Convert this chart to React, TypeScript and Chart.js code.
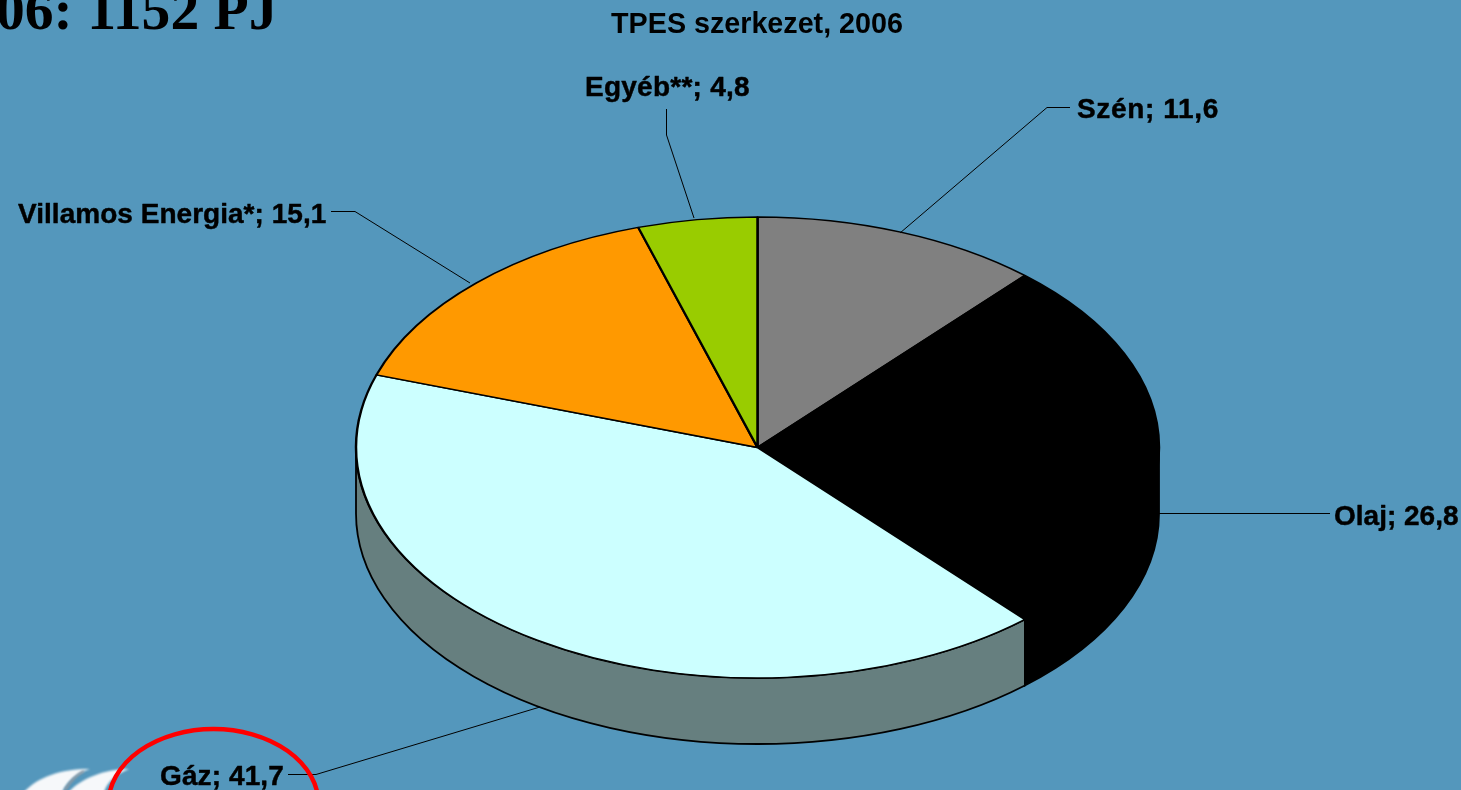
import React, { useEffect, useRef } from "react";
import { Chart, registerables } from "chart.js";

Chart.register(...registerables);

const categories = ["Szén", "Olaj", "Gáz", "Villamos Energia*", "Egyéb**"];
const values = [11.6, 26.8, 41.7, 15.1, 4.8];
const topColors = ["#808080", "#000000", "#CCFFFF", "#FF9900", "#99CC00"];
const sideColors = ["#404040", "#000000", "#667F7F", "#7F4C00", "#4C6600"];
const chartTitle = "TPES szerkezet, 2006";
const slideTitle = "06: 1152 PJ";
const background = "#5497BC";
const sans = "'Liberation Sans', Arial, sans-serif";

// Geometry of the tilted pie on the page.
const tilt = { cx: 757.5, cy: 447.5, rx: 401.5, ry: 230.5, depth: 66 };

// Label placement: text left / baseline, tracking, and the leader polyline from the label to the pie.
const labelLayout = [
  { x: 1077, y: 117.5, tracking: 0.65, leader: [[1070, 107.5], [1047, 107.5], [900, 233]] },
  { x: 1334, y: 525, tracking: 0, leader: [[1330, 513.5], [1159, 513.5]] },
  { x: 160, y: 784.5, tracking: 0.1, leader: [[288, 774.5], [316, 774.5], [540, 707]] },
  { x: 18, y: 222.5, tracking: 0.03, leader: [[331, 211.5], [355, 211.5], [470, 283]] },
  { x: 585, y: 95.5, tracking: 0.25, leader: [[666.5, 109], [666.5, 135], [694, 218]] },
];

const tiltPlugin = {
  id: "tiltedPie",
  beforeDraw(chart: any) {
    const { ctx, width, height } = chart;
    ctx.save();
    ctx.fillStyle = background;
    ctx.fillRect(0, 0, width, height);
    ctx.restore();
  },
  beforeDatasetsDraw(chart: any) {
    const { ctx } = chart;
    const arcs = chart.getDatasetMeta(0).data;
    // Side wall: only the front half of the rim (canvas angles 0..PI) can be seen.
    ctx.save();
    arcs.forEach((arc: any, i: number) => {
      const a0 = ((arc.startAngle % (2 * Math.PI)) + 2 * Math.PI) % (2 * Math.PI);
      const span = arc.endAngle - arc.startAngle;
      const ranges = [
        [a0, a0 + span],
        [a0 - 2 * Math.PI, a0 + span - 2 * Math.PI],
      ];
      ranges.forEach(([s, e]) => {
        const from = Math.max(s, 0);
        const to = Math.min(e, Math.PI);
        if (to <= from) return;
        ctx.beginPath();
        ctx.ellipse(tilt.cx, tilt.cy, tilt.rx, tilt.ry, 0, from, to);
        ctx.ellipse(tilt.cx, tilt.cy + tilt.depth, tilt.rx, tilt.ry, 0, to, from, true);
        ctx.closePath();
        ctx.fillStyle = sideColors[i];
        ctx.fill();
        ctx.strokeStyle = "#000000";
        ctx.lineWidth = 1.8;
        ctx.stroke();
      });
    });
    ctx.restore();
    // Squash the library's own arcs into the tilted ellipse.
    const first = arcs[0];
    ctx.save();
    ctx.translate(tilt.cx, tilt.cy);
    ctx.scale(tilt.rx / first.outerRadius, tilt.ry / first.outerRadius);
    ctx.translate(-first.x, -first.y);
  },
  afterDatasetsDraw(chart: any) {
    const { ctx } = chart;
    ctx.restore();

    // Leader lines and data labels
    ctx.save();
    ctx.strokeStyle = "#000000";
    ctx.lineWidth = 1;
    labelLayout.forEach((item) => {
      ctx.beginPath();
      item.leader.forEach(([x, y], k) => (k ? ctx.lineTo(x, y) : ctx.moveTo(x, y)));
      ctx.stroke();
    });
    ctx.fillStyle = "#000000";
    ctx.font = `bold 28px ${sans}`;
    ctx.textBaseline = "alphabetic";
    ctx.textAlign = "left";
    ctx.lineWidth = 0.45;
    ctx.lineJoin = "round";
    labelLayout.forEach((item, i) => {
      const text = `${categories[i]}; ${String(values[i]).replace(".", ",")}`;
      ctx.letterSpacing = `${item.tracking}px`;
      ctx.fillText(text, item.x, item.y);
      ctx.strokeText(text, item.x, item.y);
    });
    ctx.letterSpacing = "0px";

    // Slide heading, cut by the top-left corner of the page
    ctx.font = "bold 57.6px 'Liberation Serif', 'Times New Roman', serif";
    ctx.fillText(slideTitle, -4, 29);

    // Logo fragment in the bottom-left corner
    ctx.save();
    ctx.filter = "blur(1.3px)";
    ctx.fillStyle = "#F6F8FA";
    ctx.beginPath();
    ctx.moveTo(24, 792);
    ctx.bezierCurveTo(38, 777, 60, 769, 90, 769);
    ctx.bezierCurveTo(76, 773, 68, 781, 62, 792);
    ctx.closePath();
    ctx.fill();
    ctx.beginPath();
    ctx.moveTo(69, 792);
    ctx.bezierCurveTo(80, 779, 104, 769, 129, 769);
    ctx.bezierCurveTo(116, 774, 108, 781, 104, 792);
    ctx.closePath();
    ctx.fill();
    ctx.strokeStyle = "#8A97A2";
    ctx.lineWidth = 2.5;
    ctx.beginPath();
    ctx.moveTo(65, 790);
    ctx.bezierCurveTo(70, 782, 76, 775, 84, 771);
    ctx.stroke();
    ctx.restore();

    // Red highlight ring round the gas label
    ctx.strokeStyle = "#FF0000";
    ctx.lineWidth = 4.4;
    ctx.beginPath();
    ctx.ellipse(213.5, 804, 105, 75, 0, 0, 2 * Math.PI);
    ctx.stroke();
    ctx.restore();
  },
};

export default function App() {
  const ref = useRef<HTMLCanvasElement>(null);
  useEffect(() => {
    const chart = new Chart(ref.current as HTMLCanvasElement, {
      type: "pie",
      data: {
        labels: categories,
        datasets: [
          {
            data: values,
            backgroundColor: topColors,
            borderColor: "#000000",
            borderWidth: 2.3,
            clip: false,
          } as any,
        ],
      },
      options: {
        responsive: false,
        animation: false,
        events: [],
        layout: { padding: { left: 382, right: 329, top: 8, bottom: 0 } },
        plugins: {
          legend: { display: false },
          tooltip: { enabled: false },
          title: {
            display: true,
            text: chartTitle,
            fullSize: false,
            color: "#000000",
            font: { family: sans, size: 28.7, weight: "bold" },
            padding: { top: 0, bottom: 0 },
          },
        },
      },
      plugins: [tiltPlugin],
    } as any);
    return () => chart.destroy();
  }, []);
  return (
    <canvas
      ref={ref}
      width={1461}
      height={790}
      style={{ position: "fixed", left: 0, top: 0, display: "block" }}
    />
  );
}
